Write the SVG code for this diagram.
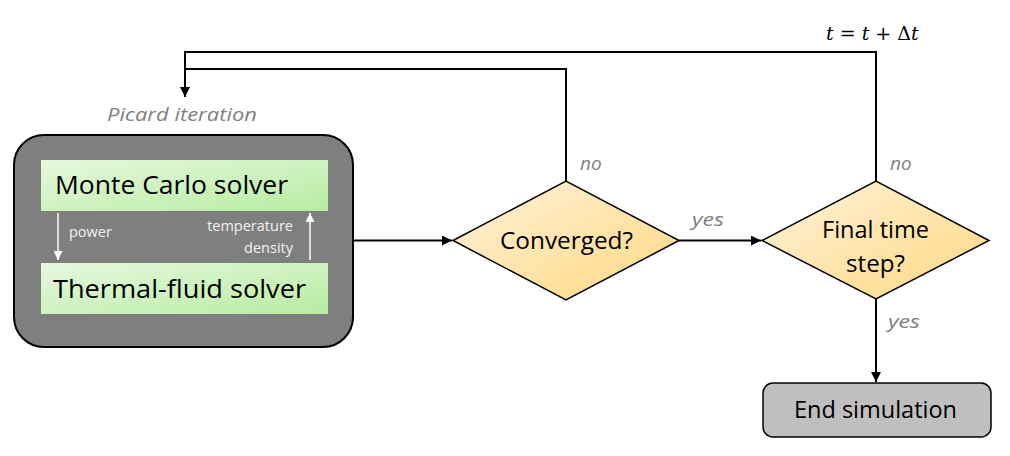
<svg xmlns="http://www.w3.org/2000/svg" width="1010" height="456" viewBox="0 0 1010 456">
<style>
.t{font-family:"Open Sans","Liberation Sans",sans-serif;fill:#000}
.lbl{font-family:"Open Sans","Liberation Sans",sans-serif;font-style:italic;fill:#7f7f7f;font-size:19px}
.sm{font-family:"Open Sans","Liberation Sans",sans-serif;fill:#f2f2f2;font-size:14.5px}
.con{fill:none;stroke:#000;stroke-width:2}
.wcon{fill:none;stroke:#fff;stroke-width:1.5}
.math{font-family:"DejaVu Serif","Liberation Serif",serif;font-size:19px;fill:#000}
</style>
<defs>
<linearGradient id="gg" x1="0" y1="0" x2="1" y2="1">
<stop offset="0" stop-color="#e6f8de"/>
<stop offset="1" stop-color="#b7eca2"/>
</linearGradient>
<linearGradient id="yg" x1="0" y1="0" x2="1" y2="1">
<stop offset="0" stop-color="#fff3dc"/>
<stop offset="1" stop-color="#ffd77e"/>
</linearGradient>
<marker id="ah" viewBox="0 0 10 10" refX="10" refY="5" markerWidth="5" markerHeight="5" orient="auto" markerUnits="strokeWidth">
<path d="M0,0 L10,5 L0,10 z" fill="#000"/>
</marker>
<marker id="wah" viewBox="0 0 10 10" refX="10" refY="5" markerWidth="6" markerHeight="6" orient="auto" markerUnits="strokeWidth">
<path d="M0,0 L10,5 L0,10 z" fill="#fff"/>
</marker>
</defs>

<g id="picard">
<rect x="14" y="135" width="339" height="212" rx="30" fill="#7f7f7f" stroke="#000" stroke-width="2"/>
<text class="lbl" x="107" y="121" font-size="22" textLength="150" lengthAdjust="spacingAndGlyphs">Picard iteration</text>
</g>
<g id="mc">
<rect x="41" y="160" width="287" height="51" fill="url(#gg)"/>
<text class="t" x="55" y="194" font-size="26" textLength="233" lengthAdjust="spacingAndGlyphs">Monte Carlo solver</text>
</g>
<g id="tf">
<rect x="41" y="263" width="287" height="51" fill="url(#gg)"/>
<text class="t" x="53" y="298" font-size="26" textLength="253" lengthAdjust="spacingAndGlyphs">Thermal-fluid solver</text>
</g>
<g id="inner-arrows">
<line class="wcon" x1="58" y1="213" x2="58" y2="260" marker-end="url(#wah)"/>
<line class="wcon" x1="310" y1="260" x2="310" y2="213" marker-end="url(#wah)"/>
<text class="sm" x="69" y="237">power</text>
<text class="sm" x="293" y="231" text-anchor="end">temperature</text>
<text class="sm" x="293" y="253" text-anchor="end">density</text>
</g>
<g id="converged">
<polygon points="453,240.5 566,181 679,240.5 566,300" fill="url(#yg)" stroke="#000" stroke-width="1.5"/>
<text class="t" x="500" y="249" font-size="24" textLength="133" lengthAdjust="spacingAndGlyphs">Converged?</text>
</g>
<g id="final">
<polygon points="762,240.5 876,181 989,240.5 876,299" fill="url(#yg)" stroke="#000" stroke-width="1.5"/>
<text class="t" x="822" y="238" font-size="24" textLength="107" lengthAdjust="spacingAndGlyphs">Final time</text>
<text class="t" x="846" y="272" font-size="24" textLength="59" lengthAdjust="spacingAndGlyphs">step?</text>
</g>
<g id="end">
<rect x="763" y="383" width="228" height="54" rx="10" fill="#bfbfbf" stroke="#000" stroke-width="1.5"/>
<text class="t" x="794" y="418" font-size="24" textLength="163" lengthAdjust="spacingAndGlyphs">End simulation</text>
</g>
<g id="connectors">
<line class="con" x1="353" y1="240.5" x2="452" y2="240.5" marker-end="url(#ah)"/>
<line class="con" x1="679" y1="240.5" x2="761" y2="240.5" marker-end="url(#ah)"/>
<line class="con" x1="876" y1="299" x2="876" y2="382" marker-end="url(#ah)"/>
<polyline class="con" points="566,181 566,69 185,69"/>
<polyline class="con" points="876,181 876,52 185,52 185,97" marker-end="url(#ah)"/>
<text class="lbl" x="580" y="170">no</text>
<text class="lbl" x="890" y="170">no</text>
<text class="lbl" x="692" y="226" textLength="32" lengthAdjust="spacingAndGlyphs">yes</text>
<text class="lbl" x="888" y="328" textLength="32" lengthAdjust="spacingAndGlyphs">yes</text>
<text class="math" x="826" y="40" font-style="italic">t <tspan font-style="normal">=</tspan> t <tspan font-style="normal">+ Δ</tspan>t</text>
</g>
</svg>
